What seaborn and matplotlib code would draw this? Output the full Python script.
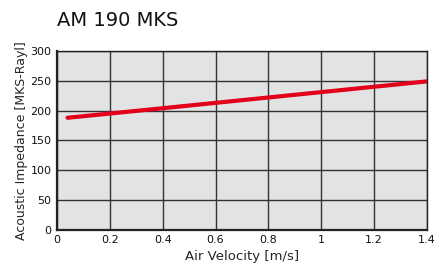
import matplotlib
matplotlib.use("Agg")
import pandas as pd
import seaborn as sns
import matplotlib.pyplot as plt

# Daten
velocity = [0.04, 0.4, 0.8, 1.2, 1.4]
impedance = [188, 204, 222, 240, 249]
x_ticks = [0, 0.2, 0.4, 0.6, 0.8, 1, 1.2, 1.4]
x_tick_labels = ["0", "0.2", "0.4", "0.6", "0.8", "1", "1.2", "1.4"]
y_ticks = [0, 50, 100, 150, 200, 250, 300]

df = pd.DataFrame({"Air Velocity": velocity, "Impedance": impedance})

sns.set_style("white")
plt.rcParams["font.family"] = ["DejaVu Sans"]

fig = plt.figure(figsize=(4.47, 2.77), dpi=100)
ax = fig.add_axes([0.1275, 0.170, 0.8275, 0.646])
ax.set_facecolor("#e2e3e3")

sns.lineplot(x="Air Velocity", y="Impedance", data=df, ax=ax,
             color="#e2001a", linewidth=3.0, zorder=3)

ax.set_xlim(0, 1.4)
ax.set_ylim(0, 300)
ax.set_xticks(x_ticks)
ax.set_xticklabels(x_tick_labels)
ax.set_yticks(y_ticks)
ax.grid(True, color="#333333", linewidth=1.0)
for s in ax.spines.values():
    s.set_color("#222222")
    s.set_linewidth(1.0)
ax.spines["left"].set_linewidth(1.6)
ax.spines["bottom"].set_linewidth(1.6)
ax.tick_params(axis="both", direction="out", length=3, width=1,
               labelsize=8, pad=1, colors="#111111")

ax.set_xlabel("Air Velocity [m/s]", fontsize=9.5, labelpad=3)
ax.set_ylabel("Acoustic Impedance [MKS-Rayl]", fontsize=9, labelpad=2)
fig.text(0.1275, 0.925, "AM 190 MKS", fontsize=14, ha="left", va="center",
         color="#111111")

fig.savefig("out.png", dpi=100)
